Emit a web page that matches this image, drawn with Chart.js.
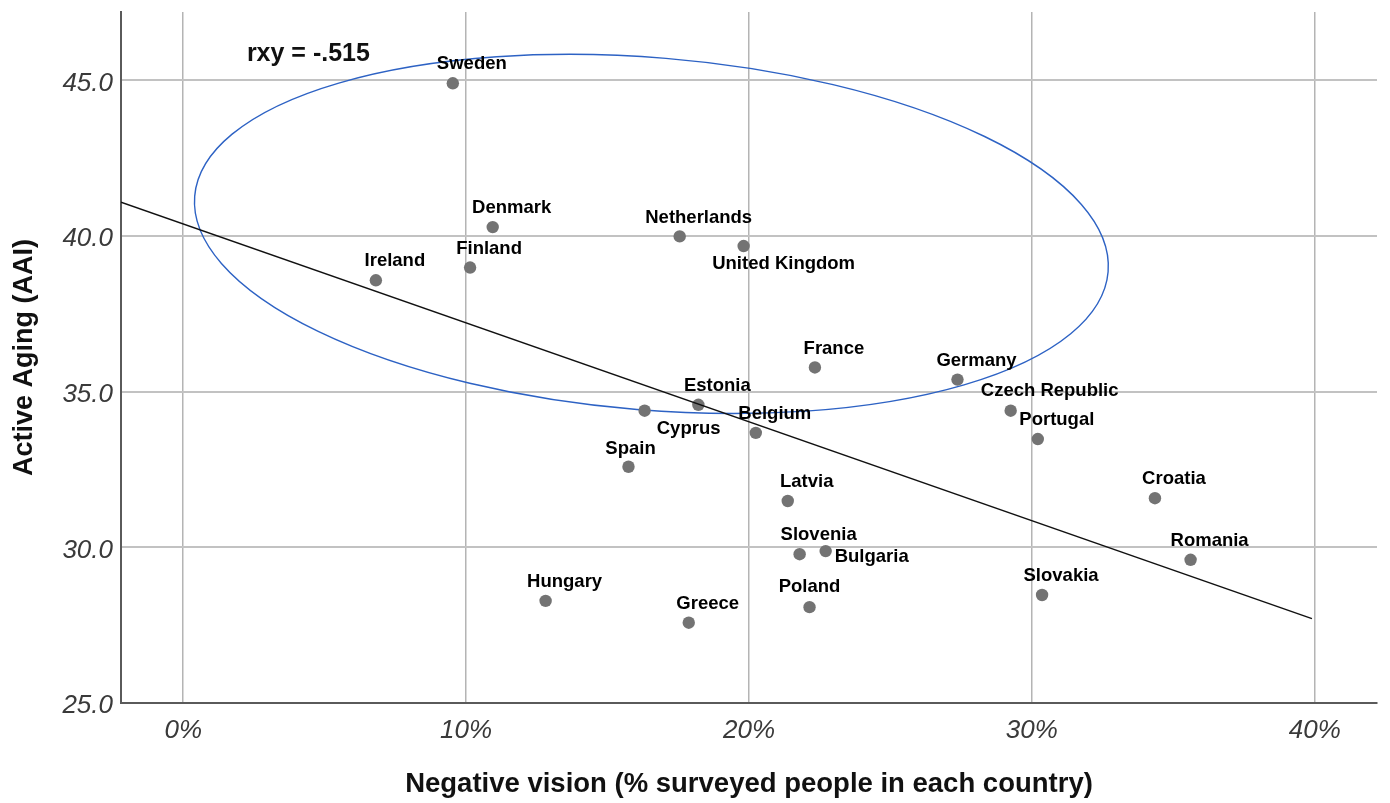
<!DOCTYPE html>
<html>
<head>
<meta charset="utf-8">
<script src="https://cdn.jsdelivr.net/npm/chart.js@4.4.0/dist/chart.umd.min.js"></script>
<style>
  html, body { margin: 0; padding: 0; background: #ffffff; }
  #wrap { width: 1390px; height: 803px; }
</style>
</head>
<body>
<div id="wrap"><canvas id="chart" width="1390" height="803"></canvas></div>
<script>
// Countries and their values
const countries = [
  'Sweden', 'Denmark', 'Finland', 'Ireland', 'Netherlands', 'United Kingdom',
  'France', 'Germany', 'Estonia', 'Cyprus', 'Belgium', 'Czech Republic',
  'Portugal', 'Spain', 'Latvia', 'Croatia', 'Slovenia', 'Bulgaria',
  'Romania', 'Hungary', 'Greece', 'Poland', 'Slovakia'
];
// Negative vision (% surveyed people in each country)
const negativeVision = [
  9.53, 10.94, 10.14, 6.81, 17.55, 19.81,
  22.33, 27.37, 18.21, 16.31, 20.24, 29.25,
  30.21, 15.74, 21.37, 34.35, 21.79, 22.71,
  35.61, 12.81, 17.87, 22.14, 30.36
];
// Active Ageing Index
const activeAging = [
  44.91, 40.29, 38.99, 38.58, 39.99, 39.68,
  35.78, 35.39, 34.58, 34.39, 33.68, 34.39,
  33.48, 32.59, 31.49, 31.58, 29.78, 29.88,
  29.60, 28.28, 27.58, 28.08, 28.47
];
// Linear fit line end points
const fitX = [-2.2, 39.9];
const fitY = [41.09, 27.71];
const correlationLabel = 'rxy = -.515';

const xTickValues = [0, 10, 20, 30, 40];
const yTickValues = [25, 30, 35, 40, 45];

// Label placement (centre offset from the point, px)
const defaultLabelOffset = { dx: 19, dy: -19 };
const labelOffsets = {
  'United Kingdom': { dx: 40, dy: 18 },
  'Cyprus': { dx: 44, dy: 18 },
  'Bulgaria': { dx: 46, dy: 6 },
  'Czech Republic': { dx: 39, dy: -20 },
  'Spain': { dx: 2, dy: -18 },
  'Poland': { dx: 0, dy: -20 }
};

// Highlight ellipse around the high-AAI group
const highlightEllipse = { cx: 16.55, cy: 40.07, rx: 16.2, ry: 5.66, rotationDeg: 4.73 };
const correlationPos = { x: 2.25, y: 45.86 };

const FONT = "'Liberation Sans', Arial, Helvetica, sans-serif";

const points = negativeVision.map((v, i) => ({ x: v, y: activeAging[i] }));
const fitLine = fitX.map((v, i) => ({ x: v, y: fitY[i] }));

const overlayPlugin = {
  id: 'overlay',
  beforeDatasetsDraw(chart) {
    const { ctx, scales: { x, y } } = chart;
    const e = highlightEllipse;
    const px = x.getPixelForValue(e.cx);
    const py = y.getPixelForValue(e.cy);
    const rx = Math.abs(x.getPixelForValue(e.cx + e.rx) - px);
    const ry = Math.abs(y.getPixelForValue(e.cy + e.ry) - py);
    ctx.save();
    ctx.beginPath();
    ctx.ellipse(px, py, rx, ry, e.rotationDeg * Math.PI / 180, 0, Math.PI * 2);
    ctx.strokeStyle = '#2d62c4';
    ctx.lineWidth = 1.4;
    ctx.stroke();
    ctx.restore();
  },
  afterDatasetsDraw(chart) {
    const { ctx, scales: { x, y } } = chart;
    ctx.save();
    ctx.fillStyle = '#000000';
    ctx.font = "bold 18.5px " + FONT;
    ctx.textAlign = 'center';
    ctx.textBaseline = 'middle';
    const meta = chart.getDatasetMeta(1);
    meta.data.forEach((pt, i) => {
      const name = countries[i];
      const off = labelOffsets[name] || defaultLabelOffset;
      ctx.fillText(name, pt.x + off.dx, pt.y + off.dy);
    });
    ctx.font = "bold 25px " + FONT;
    ctx.textAlign = 'left';
    ctx.fillStyle = '#111111';
    ctx.fillText(correlationLabel, x.getPixelForValue(correlationPos.x), y.getPixelForValue(correlationPos.y));
    ctx.restore();
  }
};

new Chart(document.getElementById('chart'), {
  type: 'scatter',
  data: {
    datasets: [
      {
        type: 'line',
        data: fitLine,
        borderColor: '#111111',
        borderWidth: 1.5,
        pointRadius: 0,
        fill: false,
        tension: 0
      },
      {
        data: points,
        backgroundColor: '#737373',
        borderWidth: 0,
        pointRadius: 6.2,
        pointHoverRadius: 6.2
      }
    ]
  },
  options: {
    responsive: false,
    animation: false,
    layout: { padding: { left: 0, right: 13, top: 12, bottom: 0 } },
    plugins: { legend: { display: false }, tooltip: { enabled: false } },
    scales: {
      x: {
        type: 'linear',
        min: -2.2,
        max: 42.2,
        afterBuildTicks(scale) { scale.ticks = xTickValues.map(v => ({ value: v })); },
        afterFit(scale) {
          scale.height = 100;
          scale.paddingLeft = 0;
          scale.paddingRight = 0;
        },
        ticks: {
          callback: v => v + '%',
          font: { family: FONT, size: 26, style: 'italic' },
          color: '#3a3a3a',
          padding: 12,
          maxRotation: 0
        },
        grid: { color: '#b4b4b4', lineWidth: 1.5, drawTicks: false },
        border: { display: true, color: '#5a5a5a', width: 2 },
        title: {
          display: true,
          text: 'Negative vision (% surveyed people in each country)',
          font: { family: FONT, size: 27.5, weight: 'bold' },
          color: '#111111',
          padding: { top: 0, bottom: 2 }
        }
      },
      y: {
        type: 'linear',
        min: 25,
        max: 47.2,
        afterBuildTicks(scale) { scale.ticks = yTickValues.map(v => ({ value: v })); },
        afterFit(scale) {
          scale.width = 121;
          scale.paddingTop = 0;
          scale.paddingBottom = 0;
        },
        ticks: {
          callback: v => v.toFixed(1),
          font: { family: FONT, size: 26, style: 'italic' },
          color: '#3a3a3a',
          padding: 8,
          labelOffset: 3
        },
        grid: { color: '#c2c2c2', lineWidth: 2, drawTicks: false },
        border: { display: true, color: '#5a5a5a', width: 2 },
        title: {
          display: true,
          text: 'Active Aging (AAI)',
          font: { family: FONT, size: 27, weight: 'bold' },
          color: '#111111',
          padding: { top: 8, bottom: 0 }
        }
      }
    }
  },
  plugins: [overlayPlugin]
});
</script>
</body>
</html>
